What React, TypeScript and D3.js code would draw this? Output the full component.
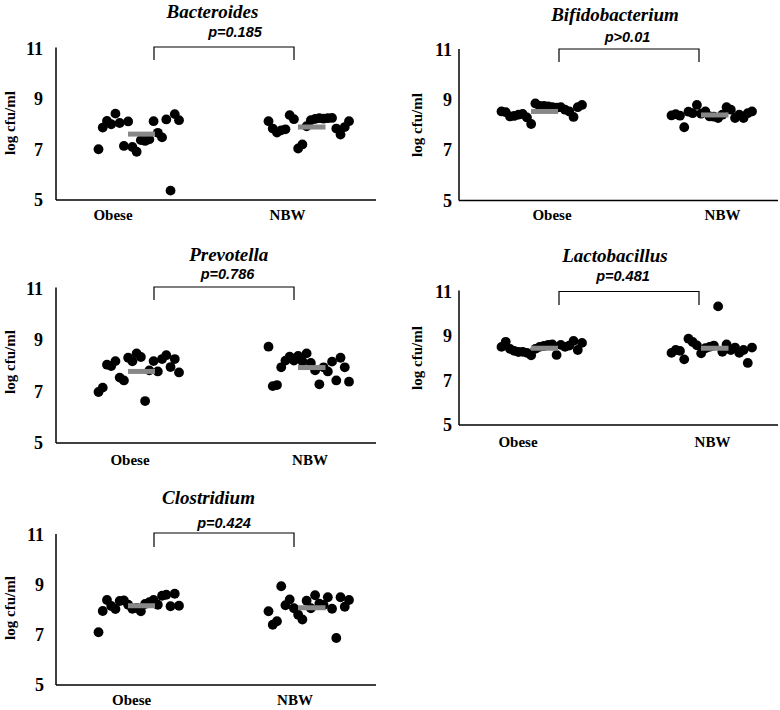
import React from "react";
import * as d3 from "d3";

// ---------- DATA ----------
const genera = ["Bacteroides", "Bifidobacterium", "Prevotella", "Lactobacillus", "Clostridium"];
const pLabels = ["p=0.185", "p>0.01", "p=0.786", "p=0.481", "p=0.424"];
const groups = ["Obese", "NBW"];
const yTicks = [5, 7, 9, 11];
const yLabel = "log cfu/ml";

const bacteroidesObese = [7.01, 7.87, 8.13, 8.0, 8.42, 8.05, 7.14, 8.11, 7.1, 6.91, 7.37, 7.34, 7.4, 8.12, 7.66, 7.48, 8.19, 5.37, 8.4, 8.16];
const bacteroidesNBW = [8.12, 7.83, 7.67, 7.76, 7.8, 8.36, 8.2, 7.04, 7.2, 7.92, 8.16, 8.21, 8.24, 8.22, 8.24, 8.25, 7.83, 7.59, 7.89, 8.12];
const bifidoObese = [8.55, 8.52, 8.35, 8.37, 8.42, 8.45, 8.31, 8.05, 8.87, 8.77, 8.77, 8.75, 8.72, 8.7, 8.72, 8.62, 8.55, 8.33, 8.72, 8.81];
const bifidoNBW = [8.39, 8.44, 8.38, 7.92, 8.54, 8.48, 8.81, 8.46, 8.55, 8.35, 8.34, 8.29, 8.42, 8.72, 8.62, 8.29, 8.42, 8.29, 8.48, 8.55];
const prevotellaObese = [6.98, 7.15, 8.04, 7.99, 8.18, 7.54, 7.43, 8.31, 8.17, 8.48, 8.34, 6.63, 7.82, 8.18, 7.78, 8.26, 8.41, 7.95, 8.26, 7.74];
const prevotellaNBW = [8.74, 7.21, 7.25, 7.94, 8.2, 8.35, 8.2, 8.38, 8.17, 8.48, 8.11, 7.82, 7.28, 7.94, 7.78, 8.16, 7.43, 8.31, 7.94, 7.38];
const lactoObese = [8.51, 8.74, 8.42, 8.33, 8.28, 8.29, 8.24, 8.13, 8.42, 8.51, 8.55, 8.6, 8.62, 8.15, 8.6, 8.51, 8.57, 8.78, 8.37, 8.69];
const lactoNBW = [8.24, 8.37, 8.33, 7.95, 8.88, 8.73, 8.58, 8.22, 8.45, 8.51, 8.57, 10.33, 8.29, 8.62, 8.37, 8.48, 8.24, 8.37, 7.79, 8.48];
const clostObese = [7.11, 7.96, 8.4, 8.16, 8.04, 8.36, 8.38, 8.21, 8.05, 8.08, 7.95, 8.24, 8.31, 8.4, 8.21, 8.57, 8.61, 8.15, 8.65, 8.17];
const clostNBW = [7.95, 7.41, 7.55, 8.95, 8.19, 8.42, 8.07, 7.81, 7.62, 8.37, 8.07, 8.59, 8.25, 8.2, 8.51, 8.05, 6.88, 8.51, 8.13, 8.4];

const meansObese = [7.61, 8.55, 7.78, 8.45, 8.17];
const meansNBW = [7.89, 8.41, 7.93, 8.45, 8.09];

const seriesObese = [bacteroidesObese, bifidoObese, prevotellaObese, lactoObese, clostObese];
const seriesNBW = [bacteroidesNBW, bifidoNBW, prevotellaNBW, lactoNBW, clostNBW];

// ---------- LAYOUT ----------
type Layout = {
  ax: number; right: number; yTop: number; yBot: number;
  titleX: number; titleY: number; pX: number; pY: number;
  brTop: number; brBot: number; brL: number; brR: number;
  labY: number; labX: [number, number];
  yLabX: number; yLabY: number; tickEnd: number;
};

const layouts: Layout[] = [
  { ax: 56, right: 376, yTop: 48.5, yBot: 200, titleX: 212.5, titleY: 18, pX: 235, pY: 37, brTop: 47, brBot: 60, brL: 154, brR: 294, labY: 220, labX: [113, 287.5], yLabX: 10, yLabY: 123, tickEnd: 43 },
  { ax: 459, right: 778, yTop: 50, yBot: 200.5, titleX: 615, titleY: 20.5, pX: 627.5, pY: 42, brTop: 49, brBot: 62, brL: 559, brR: 699, labY: 220, labX: [552, 722.5], yLabX: 417, yLabY: 125, tickEnd: 452 },
  { ax: 56, right: 376, yTop: 288.5, yBot: 443, titleX: 228.7, titleY: 260.5, pX: 227.5, pY: 279, brTop: 287, brBot: 300, brL: 154, brR: 294, labY: 465, labX: [130, 310], yLabX: 10, yLabY: 362, tickEnd: 43 },
  { ax: 459, right: 778, yTop: 291.5, yBot: 425, titleX: 615, titleY: 261.5, pX: 623, pY: 280.5, brTop: 291.5, brBot: 305, brL: 559, brR: 699, labY: 446.5, labX: [518, 712.5], yLabX: 417, yLabY: 358, tickEnd: 452 },
  { ax: 56, right: 376, yTop: 535, yBot: 685, titleX: 208.5, titleY: 504, pX: 224, pY: 528, brTop: 533, brBot: 547, brL: 154, brR: 294, labY: 705, labX: [131.7, 295], yLabX: 10, yLabY: 608, tickEnd: 44 },
];

// dot cloud ranges and mean bar spans (relative to axis x)
const dotRange: [number, number][] = [[42.5, 123], [212.5, 293]];
const barSpan: [number, number][] = [[72, 99], [242, 269.5]];

const SERIF = "'Liberation Serif', 'Times New Roman', Times, serif";
const SANS = "'Liberation Sans', Arial, Helvetica, sans-serif";

function Panel({ i }: { i: number }) {
  const L = layouts[i];
  const y = d3.scaleLinear().domain([5, 11]).range([L.yBot, L.yTop]);
  const sets = [seriesObese[i], seriesNBW[i]];
  const means = [meansObese[i], meansNBW[i]];
  return (
    <g>
      {/* axes */}
      <line x1={L.ax} x2={L.ax} y1={L.yTop - 1} y2={L.yBot} stroke="#000" strokeWidth={1.5} />
      <line x1={L.ax} x2={L.right} y1={L.yBot} y2={L.yBot} stroke="#000" strokeWidth={1.5} />
      {yTicks.map((t) => (
        <text key={t} x={L.tickEnd} y={y(t)} dy="0.34em" textAnchor="end" fontFamily={SERIF} fontWeight="bold" fontSize={18}>
          {t}
        </text>
      ))}
      <text
        transform={`translate(${L.yLabX},${L.yLabY}) rotate(-90)`}
        textAnchor="middle"
        dy="0.32em"
        fontFamily={SERIF}
        fontWeight="bold"
        fontSize={15}
      >
        {yLabel}
      </text>
      {groups.map((g, gi) => (
        <text key={g} x={L.labX[gi]} y={L.labY} textAnchor="middle" fontFamily={SERIF} fontWeight="bold" fontSize={15}>
          {g}
        </text>
      ))}
      {/* dots */}
      {sets.map((vals, gi) => {
        const xp = d3
          .scalePoint<number>()
          .domain(d3.range(vals.length))
          .range([L.ax + dotRange[gi][0], L.ax + dotRange[gi][1]]);
        return (
          <g key={gi}>
            {vals.map((v, k) => (
              <circle key={k} cx={xp(k)} cy={y(v)} r={4.9} fill="#000" />
            ))}
          </g>
        );
      })}
      {/* mean bars */}
      {means.map((m, gi) => (
        <rect
          key={gi}
          x={L.ax + barSpan[gi][0]}
          y={y(m) - 2.5}
          width={barSpan[gi][1] - barSpan[gi][0]}
          height={5}
          fill="#888"
        />
      ))}
      {/* bracket */}
      <path
        d={`M${L.brL},${L.brBot}V${L.brTop}H${L.brR}V${L.brBot}`}
        fill="none"
        stroke="#000"
        strokeWidth={1.2}
      />
      <text x={L.pX} y={L.pY} textAnchor="middle" fontFamily={SANS} fontWeight="bold" fontStyle="italic" fontSize={14.5}>
        {pLabels[i]}
      </text>
      <text x={L.titleX} y={L.titleY} textAnchor="middle" fontFamily={SERIF} fontWeight="bold" fontStyle="italic" fontSize={19}>
        {genera[i]}
      </text>
    </g>
  );
}

export default function App() {
  return (
    <svg
      width={780}
      height={710}
      viewBox="0 0 780 710"
      style={{ position: "absolute", left: 0, top: 0, background: "#fff" }}
    >
      <rect width={780} height={710} fill="#fff" />
      {genera.map((_, i) => (
        <Panel key={i} i={i} />
      ))}
    </svg>
  );
}
